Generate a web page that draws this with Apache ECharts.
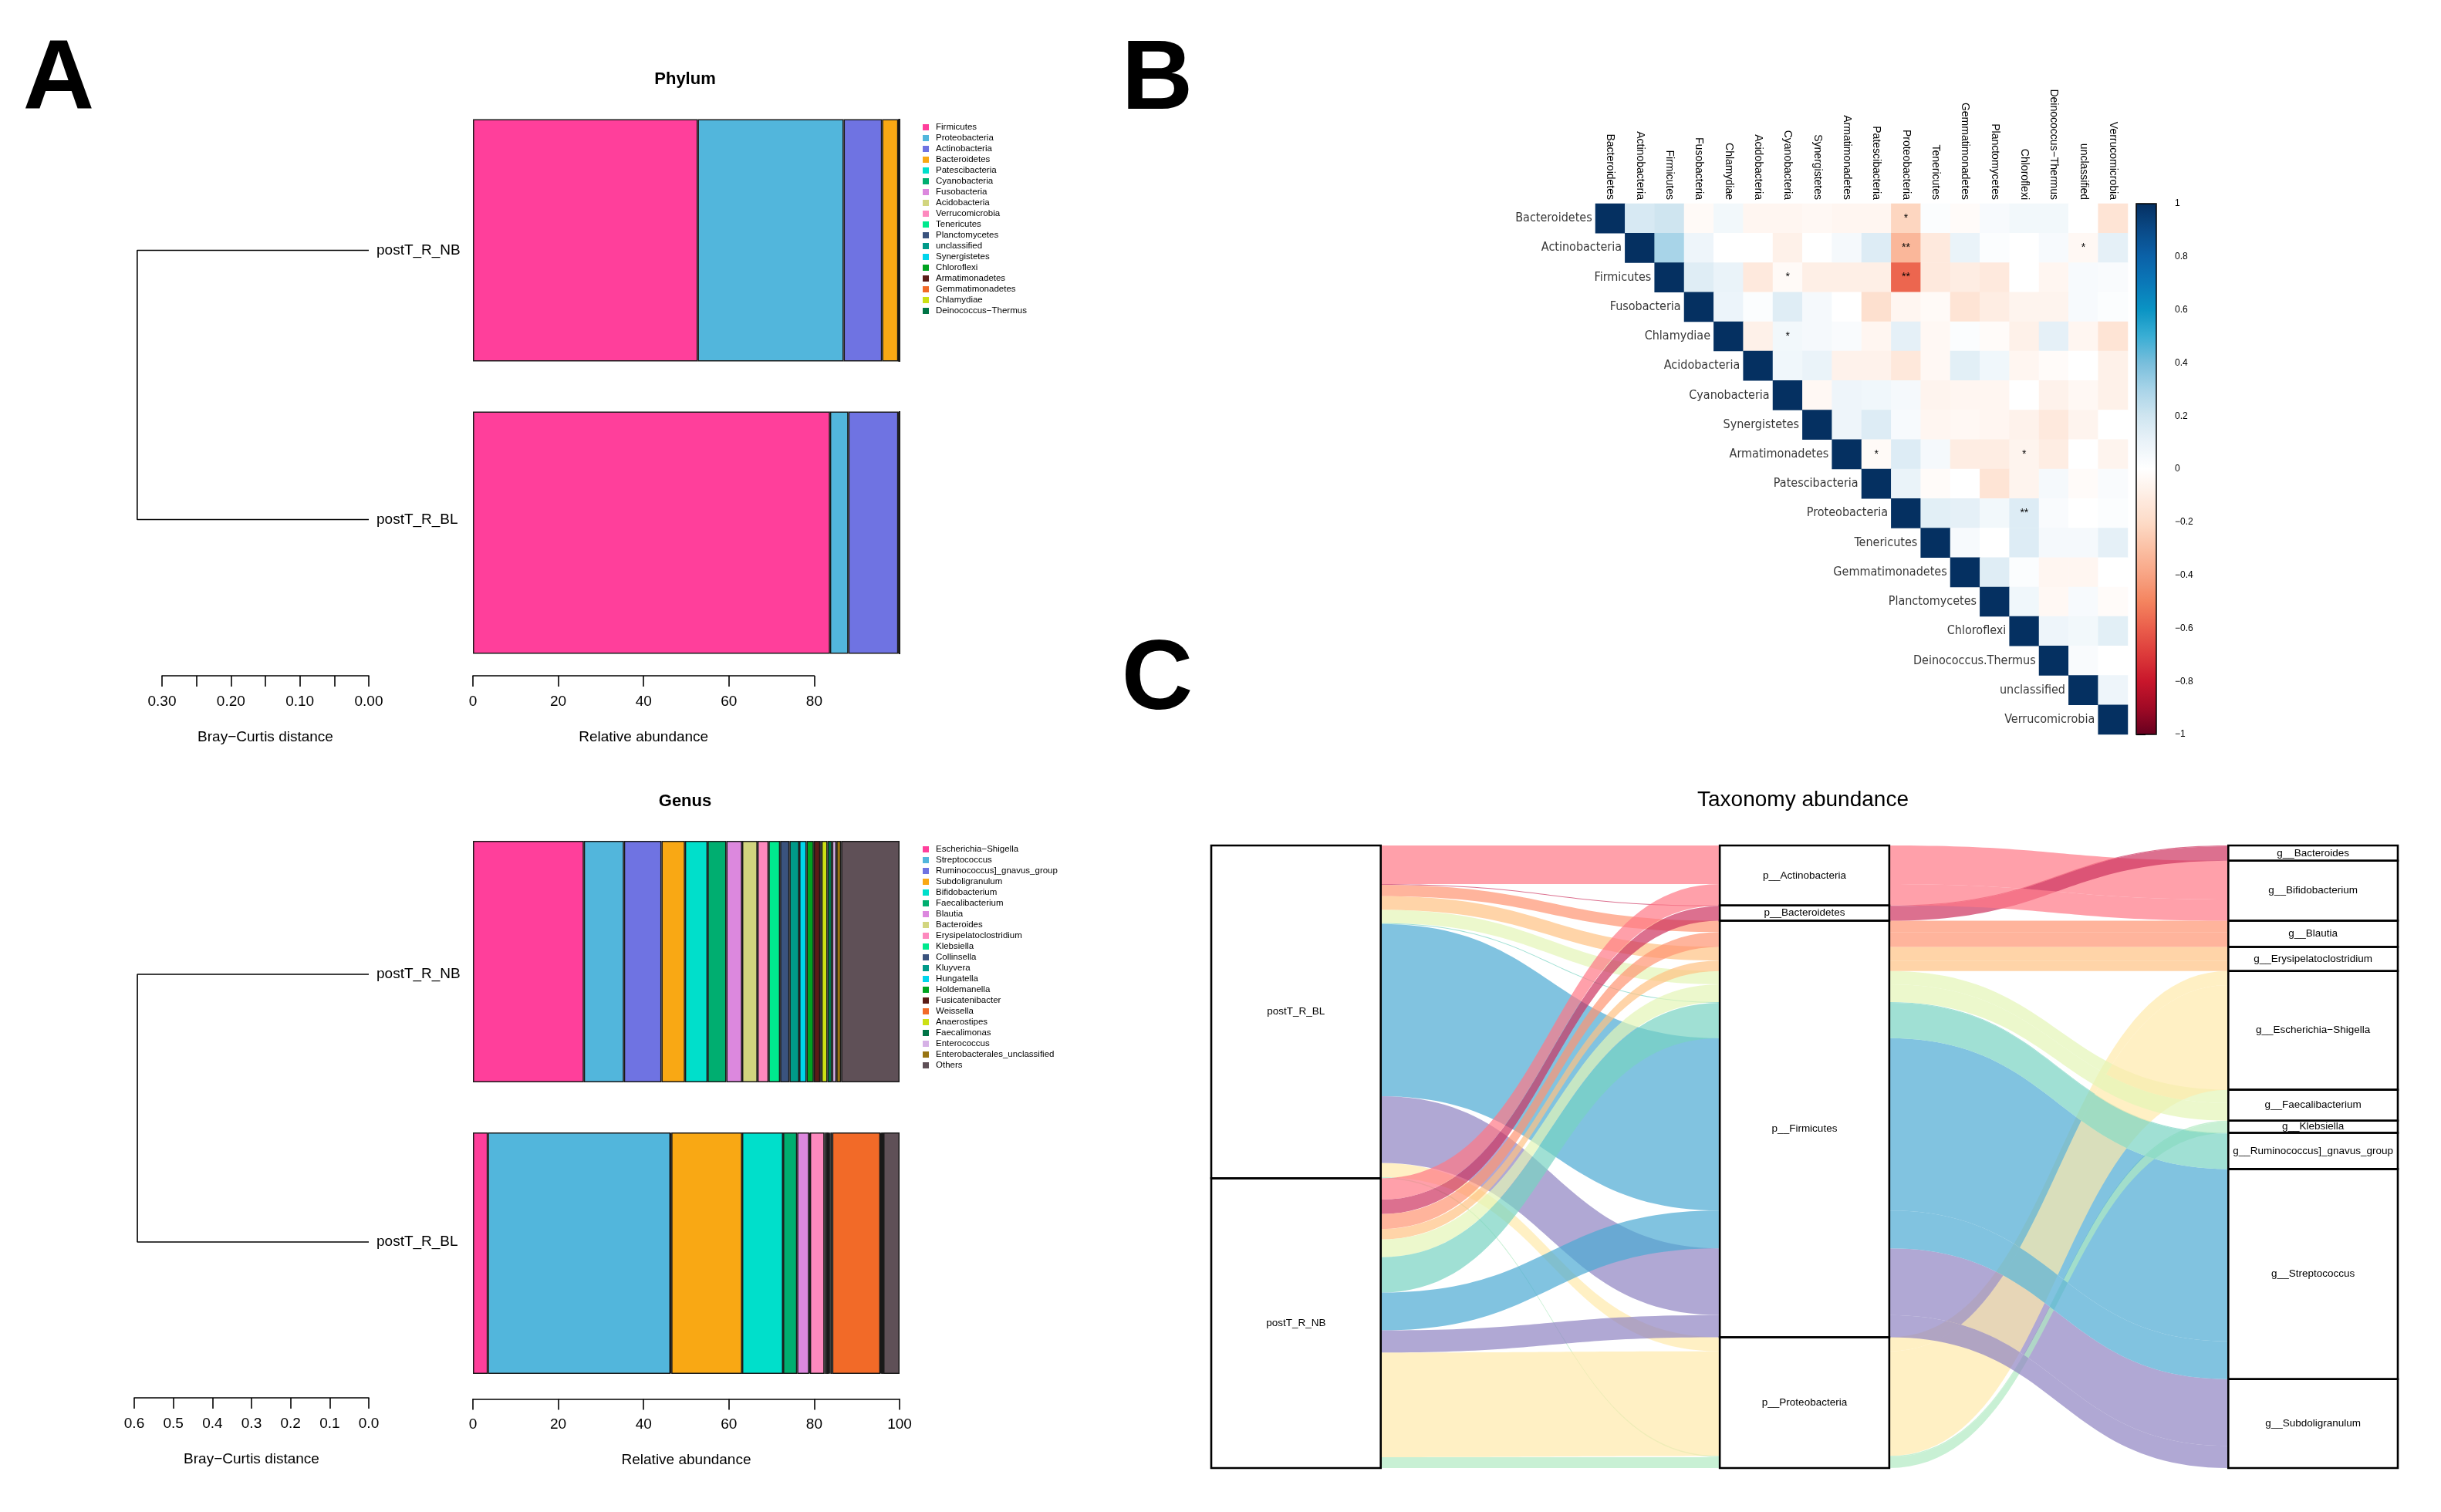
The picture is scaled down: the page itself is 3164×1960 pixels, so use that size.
<!DOCTYPE html>
<html><head><meta charset="utf-8">
<script src="https://cdn.jsdelivr.net/npm/echarts@6/dist/echarts.min.js"></script>
<style>html,body{margin:0;padding:0;background:#fff}#c{width:3164px;height:1960px}</style>
</head><body><div id="c"></div>
<script>
// ---------------- DATA ----------------
const samples = ['postT_R_BL', 'postT_R_NB'];

const phylumNames = ['Firmicutes','Proteobacteria','Actinobacteria','Bacteroidetes','Patescibacteria','Cyanobacteria','Fusobacteria','Acidobacteria','Verrucomicrobia','Tenericutes','Planctomycetes','unclassified','Synergistetes','Chloroflexi','Armatimonadetes','Gemmatimonadetes','Chlamydiae','Deinococcus\u2212Thermus'];
const phylumBL = [83.7,4.3,11.7,0.2,0.02,0.01,0.01,0.01,0.01,0.01,0.01,0.01,0.005,0.005,0.005,0.005,0.005,0.005];
const phylumNB = [52.7,34.2,9.0,3.8,0.1,0.05,0.03,0.02,0.02,0.02,0.01,0.01,0.01,0.01,0.005,0.005,0.005,0.005];
const phylumColors = ['#FF3F9B','#52B6DC','#6F73E2','#F9A814','#00DFCB','#00AE70','#DC88DE','#D2D57F','#FD89BE','#00E98E','#3A537E','#009A89','#00D5EC','#00A321','#5B1C17','#F26A28','#CCE014','#007446'];

const genusNames = ['Escherichia\u2212Shigella','Streptococcus','Ruminococcus]_gnavus_group','Subdoligranulum','Bifidobacterium','Faecalibacterium','Blautia','Bacteroides','Erysipelatoclostridium','Klebsiella','Collinsella','Kluyvera','Hungatella','Holdemanella','Fusicatenibacter','Weissella','Anaerostipes','Faecalimonas','Enterococcus','Enterobacterales_unclassified','Others'];
const genusBL = [3.5,42.8,0.2,16.6,9.6,3.3,2.8,0.2,3.4,0.3,0.5,0.1,0.3,0.2,0.4,11.3,0.2,0.1,0.3,0.1,3.8];
const genusNB = [26.0,9.4,8.8,5.5,5.3,4.4,3.7,3.6,2.6,2.7,2.2,2.3,1.7,1.7,1.5,0.3,1.4,1.1,1.0,1.1,13.7];
const genusColors = ['#FF3F9B','#52B6DC','#6F73E2','#F9A814','#00DFCB','#00AE70','#DC88DE','#D2D57F','#FD89BE','#00E98E','#3A537E','#009A89','#00D5EC','#00A321','#5B1C17','#F26A28','#CCE014','#007446','#D6B1E6','#987413','#5F5057'];

// Bray-Curtis distances of the two-leaf dendrograms
const bcPhylum = 0.336;
const bcGenus = 0.592;
const bcPhylumTicks = {min: 0, max: 0.30, step: 0.05};
const bcGenusTicks = {min: 0, max: 0.6, step: 0.1};

// correlation matrix (upper triangle, row i, columns j>i)
const heatRows = ['Bacteroidetes','Actinobacteria','Firmicutes','Fusobacteria','Chlamydiae','Acidobacteria','Cyanobacteria','Synergistetes','Armatimonadetes','Patescibacteria','Proteobacteria','Tenericutes','Gemmatimonadetes','Planctomycetes','Chloroflexi','Deinococcus.Thermus','unclassified','Verrucomicrobia'];
const heatCols = ['Bacteroidetes','Actinobacteria','Firmicutes','Fusobacteria','Chlamydiae','Acidobacteria','Cyanobacteria','Synergistetes','Armatimonadetes','Patescibacteria','Proteobacteria','Tenericutes','Gemmatimonadetes','Planctomycetes','Chloroflexi','Deinococcus\u2212Thermus','unclassified','Verrucomicrobia'];
const corrUpper = [
 [0.17,0.2,-0.03,0.06,-0.05,-0.05,-0.04,-0.05,-0.05,-0.22,0.02,-0.02,0.04,0.06,0.06,0.0,-0.15],
 [0.3,0.08,0.0,0.0,-0.08,0.0,0.05,0.15,-0.33,-0.12,0.1,0.02,0.0,0.04,-0.04,0.12],
 [0.14,0.1,-0.12,-0.03,-0.09,-0.09,-0.09,-0.58,-0.12,-0.1,-0.12,0.0,-0.05,0.04,0.03],
 [0.09,0.02,0.14,0.05,0.0,-0.17,-0.05,-0.03,-0.15,-0.1,-0.06,-0.06,0.04,0.02],
 [-0.08,0.06,0.05,0.03,-0.05,0.12,-0.04,0.02,-0.02,-0.08,0.12,-0.05,-0.15],
 [0.07,0.1,-0.07,-0.07,-0.13,-0.04,0.13,0.07,-0.05,-0.02,0.0,-0.08],
 [-0.04,0.08,0.07,0.05,-0.06,-0.05,-0.05,0.0,-0.07,-0.04,-0.08],
 [0.08,0.15,0.04,-0.05,-0.04,-0.05,-0.07,-0.12,-0.06,0.0],
 [-0.03,0.15,0.05,-0.1,-0.1,-0.06,-0.1,0.0,-0.06],
 [0.1,-0.02,0.0,-0.15,-0.06,0.05,-0.02,0.03],
 [0.13,0.12,0.06,0.15,0.03,0.0,0.02],
 [0.04,0.0,0.15,0.05,0.05,0.12],
 [0.14,0.02,-0.05,-0.05,0.0],
 [0.07,-0.04,0.04,-0.02],
 [0.08,0.06,0.13],
 [0.03,0.0],
 [0.08],
 []
];
const corrStars = [[0,10,'*'],[1,10,'**'],[1,16,'*'],[2,6,'*'],[2,10,'**'],[4,6,'*'],[8,9,'*'],[8,14,'*'],[10,14,'**']];
const corrPalette = ['#67001F','#A00A25','#C8162B','#DC3A3A','#EA5E4B','#F4845F','#F8A383','#FBC0A4','#FDDBC7','#FEEDE3','#FFFFFF','#EAF3F9','#CFE5F0','#A8D4E8','#78BEDC','#3AAED4','#0A94C4','#0A78B8','#0B62A8','#0A4A88','#053061'];
const colorbarTicks = {min: -1, max: 1, step: 0.2};

// alluvial (top-10 genera)
const alluGenera = ['Bacteroides','Bifidobacterium','Blautia','Erysipelatoclostridium','Escherichia\u2212Shigella','Faecalibacterium','Klebsiella','Ruminococcus]_gnavus_group','Streptococcus','Subdoligranulum'];
const alluPhylumOf = ['Bacteroidetes','Actinobacteria','Firmicutes','Firmicutes','Proteobacteria','Firmicutes','Proteobacteria','Firmicutes','Firmicutes','Firmicutes'];
const alluPhyla = ['Actinobacteria','Bacteroidetes','Firmicutes','Proteobacteria'];
const alluColors = ['#CD3360','#FF7786','#FF9472','#FFC283','#FFEAAB','#E4F5B6','#B0EAC2','#77D3C2','#4CA9D3','#8E83C2'];

// ---------------- BUILD ----------------
const FONT = 'Liberation Sans';
const chart = echarts.init(document.getElementById('c'));

const series = [];
phylumNames.forEach((n, i) => {
  series.push({name: n, type: 'bar', xAxisIndex: 1, yAxisIndex: 1, stack: 'phy', barWidth: 314,
    data: [phylumBL[i], phylumNB[i]],
    itemStyle: {color: phylumColors[i], borderColor: '#1a1a1a', borderWidth: 1.5}});
});
genusNames.forEach((n, i) => {
  series.push({name: n, type: 'bar', xAxisIndex: 4, yAxisIndex: 4, stack: 'gen', barWidth: 313,
    data: [genusBL[i], genusNB[i]],
    itemStyle: {color: genusColors[i], borderColor: '#1a1a1a', borderWidth: 1.5}});
});
function dendro(h, xi) {
  return {type: 'line', xAxisIndex: xi, yAxisIndex: xi, symbol: 'none', clip: false, silent: true,
    lineStyle: {color: '#000', width: 1.6},
    data: [[0, samples[1]], [h, samples[1]], [h, samples[0]], [0, samples[0]]]};
}
series.push(dendro(bcPhylum, 0));
series.push(dendro(bcGenus, 3));

// heatmap
const starMap = {};
corrStars.forEach(s => starMap[s[0] + '_' + s[1]] = s[2]);
const heatData = [];
for (let i = 0; i < heatRows.length; i++) {
  heatData.push([i, i, 1, '']);
  corrUpper[i].forEach((v, k) => {
    const j = i + 1 + k;
    heatData.push([j, i, v, starMap[i + '_' + j] || '']);
  });
}
const heatIdx = series.length;
series.push({type: 'heatmap', xAxisIndex: 5, yAxisIndex: 5, data: heatData,
  label: {show: true, formatter: p => p.data[3], color: '#000', fontSize: 14, fontFamily: FONT},
  itemStyle: {borderWidth: 0}, emphasis: {disabled: true}});
series.push({type: 'scatter', xAxisIndex: 5, yAxisIndex: 5, symbolSize: 1, silent: true,
  itemStyle: {color: 'rgba(0,0,0,0)'},
  data: heatRows.map((n, i) => [i, i]),
  label: {show: true, position: 'left', distance: 23, formatter: p => heatRows[p.dataIndex],
    color: '#000', fontSize: 16, fontFamily: "'Liberation Sans Narrow','DejaVu Sans Condensed','Liberation Sans'"}});

// alluvial flows
const flows = [];
samples.forEach((s, si) => {
  alluGenera.forEach((g, gi) => {
    const v = si === 0 ? genusBL[genusNames.indexOf(g)] : genusNB[genusNames.indexOf(g)];
    flows.push({s: si, g: gi, p: alluPhyla.indexOf(alluPhylumOf[gi]), v: v});
  });
});
function stackBy(keyFn, prop) {
  const ord = flows.slice().sort((a, b) => {
    const ka = keyFn(a), kb = keyFn(b);
    for (let k = 0; k < ka.length; k++) if (ka[k] !== kb[k]) return ka[k] - kb[k];
    return 0;
  });
  let c = 0;
  ord.forEach(f => { f[prop] = c; c += f.v; });
  return c;
}
const alluTotal = stackBy(f => [f.s, f.p, f.g], 'y1');
stackBy(f => [f.p, f.g, f.s], 'y2');
stackBy(f => [f.g, f.s], 'y3');
const W = 1 / 3;
const ribbonData = [];
flows.forEach(f => {
  ribbonData.push([1 + W / 2, 2 - W / 2, f.y1, f.y1 + f.v, f.y2, f.y2 + f.v, f.g]);
  ribbonData.push([2 + W / 2, 3 - W / 2, f.y2, f.y2 + f.v, f.y3, f.y3 + f.v, f.g]);
});
const boxData = [], boxLabels = [];
function addBoxes(axisX, names, prefix, keyFn) {
  let c = 0;
  names.forEach((n, k) => {
    const tot = flows.filter(f => keyFn(f) === k).reduce((a, f) => a + f.v, 0);
    boxData.push([axisX, c, c + tot]); boxLabels.push(prefix + n); c += tot;
  });
}
addBoxes(1, samples, '', f => f.s);
addBoxes(2, alluPhyla, 'p__', f => f.p);
addBoxes(3, alluGenera, 'g__', f => f.g);

function bez(t, a, b, c, d) { const u = 1 - t; return u*u*u*a + 3*u*u*t*b + 3*u*t*t*c + t*t*t*d; }
series.push({type: 'custom', xAxisIndex: 7, yAxisIndex: 7, silent: true, data: ribbonData,
  encode: {x: [0, 1], y: [2, 3, 4, 5]},
  renderItem: (params, api) => {
    const x0 = api.value(0), x1 = api.value(1), a0 = api.value(2), b0 = api.value(3), a1 = api.value(4), b1 = api.value(5), gi = api.value(6);
    const xm = (x0 + x1) / 2, N = 48, pts = [];
    for (let i = 0; i <= N; i++) { const t = i / N; pts.push(api.coord([bez(t, x0, xm, xm, x1), bez(t, a0, a0, a1, a1)])); }
    for (let i = N; i >= 0; i--) { const t = i / N; pts.push(api.coord([bez(t, x0, xm, xm, x1), bez(t, b0, b0, b1, b1)])); }
    return {type: 'polygon', shape: {points: pts}, style: {fill: alluColors[gi], opacity: 0.7}};
  }});
series.push({type: 'custom', xAxisIndex: 7, yAxisIndex: 7, silent: true, data: boxData,
  encode: {x: 0, y: [1, 2]},
  renderItem: (params, api) => {
    const xc = api.value(0), yt = api.value(1), yb = api.value(2);
    const p0 = api.coord([xc - W / 2, yt]), p1 = api.coord([xc + W / 2, yb]);
    return {type: 'group', children: [
      {type: 'rect', shape: {x: p0[0], y: p0[1], width: p1[0] - p0[0], height: p1[1] - p0[1]},
        style: {fill: 'rgba(255,255,255,0)', stroke: '#000', lineWidth: 2.6}},
      {type: 'text', style: {text: boxLabels[params.dataIndex], x: (p0[0] + p1[0]) / 2, y: (p0[1] + p1[1]) / 2,
        align: 'center', verticalAlign: 'middle', fontSize: 13.5, fontFamily: FONT, fill: '#000'}}]};
  }});

// ---------------- AXES ----------------
const axStyle = {
  axisLine: {show: true, lineStyle: {color: '#000', width: 1.6}},
  axisTick: {show: true, length: 14, lineStyle: {color: '#000', width: 1.6}},
  axisLabel: {color: '#000', fontSize: 19, fontFamily: FONT, margin: 24},
  splitLine: {show: false},
  nameTextStyle: {color: '#000', fontSize: 19, fontFamily: FONT}
};
const hidden = {show: false};
const xAxis = [
  Object.assign({gridIndex: 0, type: 'value', inverse: true, min: bcPhylumTicks.min, max: bcPhylumTicks.max, interval: bcPhylumTicks.step, offset: 28,
    name: 'Bray\u2212Curtis distance', nameLocation: 'middle', nameGap: 70}, axStyle,
    {axisLabel: Object.assign({}, axStyle.axisLabel, {formatter: v => (Math.round(v * 100) % 10 === 0 ? v.toFixed(2) : '')})}),
  {gridIndex: 1, type: 'value', min: 0, max: 100, show: false},
  Object.assign({gridIndex: 2, type: 'value', min: 0, max: 80, interval: 20, name: 'Relative abundance', nameLocation: 'middle', nameGap: 70}, axStyle),
  Object.assign({gridIndex: 3, type: 'value', inverse: true, min: bcGenusTicks.min, max: bcGenusTicks.max, interval: bcGenusTicks.step, offset: 28.5,
    name: 'Bray\u2212Curtis distance', nameLocation: 'middle', nameGap: 70}, axStyle,
    {axisLabel: Object.assign({}, axStyle.axisLabel, {formatter: v => v.toFixed(1)})}),
  Object.assign({gridIndex: 4, type: 'value', min: 0, max: 100, interval: 20, name: 'Relative abundance', nameLocation: 'middle', nameGap: 70}, axStyle),
  {gridIndex: 5, type: 'category', data: heatCols, position: 'top', axisLine: hidden, axisTick: hidden, splitLine: hidden,
    axisLabel: {rotate: 90, interval: 0, margin: 5, color: '#000', fontSize: 14, fontFamily: FONT}},
  {gridIndex: 6, type: 'value', show: false},
  {gridIndex: 7, type: 'value', min: 1 - W / 2, max: 3 + W / 2, show: false}
];
const yAxis = [
  {gridIndex: 0, type: 'category', data: samples, position: 'right', axisLine: hidden, axisTick: hidden,
    axisLabel: {color: '#000', fontSize: 19, fontFamily: FONT, margin: 10}},
  {gridIndex: 1, type: 'category', data: samples, show: false},
  {gridIndex: 2, type: 'value', show: false},
  {gridIndex: 3, type: 'category', data: samples, position: 'right', axisLine: hidden, axisTick: hidden,
    axisLabel: {color: '#000', fontSize: 19, fontFamily: FONT, margin: 10}},
  {gridIndex: 4, type: 'category', data: samples, show: false},
  {gridIndex: 5, type: 'category', data: heatRows, inverse: true, show: false},
  {gridIndex: 6, type: 'value', min: colorbarTicks.min, max: colorbarTicks.max, interval: colorbarTicks.step, position: 'right',
    axisLine: hidden, splitLine: hidden,
    axisTick: {show: true, length: 12, lineStyle: {color: '#000', width: 1.2}},
    axisLabel: {color: '#000', fontSize: 12, fontFamily: FONT, margin: 24,
      formatter: v => { const r = Math.round(v * 10) / 10; return r === 0 ? '0' : (r < 0 ? '\u2212' : '') + String(Math.abs(r)); }}},
  {gridIndex: 7, type: 'value', min: 0, max: alluTotal, inverse: true, show: false}
];
const grid = [
  {left: 210, top: 150, width: 268, height: 698},
  {left: 613, top: 122, width: 553, height: 758},
  {left: 613, top: 875, width: 442.4, height: 1},
  {left: 174, top: 1089.5, width: 304, height: 694},
  {left: 613, top: 1057.5, width: 553, height: 756},
  {left: 2068, top: 264, width: 690, height: 688},
  {left: 2769, top: 264, width: 26, height: 688, show: true, borderColor: '#000', borderWidth: 1.5, backgroundColor: 'rgba(0,0,0,0)', z: 10},
  {left: 1570, top: 1096, width: 1538, height: 807}
];

const legendBase = {orient: 'vertical', left: 1196, itemWidth: 8, itemHeight: 8, itemGap: 0, icon: 'rect', selectedMode: false,
  itemStyle: {borderWidth: 0}, padding: 0,
  textStyle: {color: '#000', fontSize: 11.5, lineHeight: 14, fontFamily: FONT, padding: [0, 0, 0, 4]}};

const txt = (text, x, y, size, bold, align) => ({type: 'text', x: x, y: y, style: {text: text, fontSize: size, fontWeight: bold ? 'bold' : 'normal',
  fontFamily: FONT, fill: '#000', align: align || 'center', verticalAlign: 'middle'}});

chart.setOption({
  animation: false,
  backgroundColor: '#fff',
  textStyle: {fontFamily: FONT},
  grid: grid, xAxis: xAxis, yAxis: yAxis,
  legend: [Object.assign({}, legendBase, {top: 158, data: phylumNames}),
           Object.assign({}, legendBase, {top: 1094, data: genusNames})],
  visualMap: {type: 'continuous', min: -1, max: 1, seriesIndex: heatIdx, dimension: 2, inRange: {color: corrPalette},
    show: true, left: 2769, top: 264, itemWidth: 26, itemHeight: 688, calculable: false, padding: 0, text: null, hoverLink: false},
  graphic: [
    txt('A', 76, 106, 128, true), txt('B', 1500, 106, 128, true), txt('C', 1500, 884, 128, true),
    txt('Phylum', 888, 103, 22, true), txt('Genus', 888, 1039, 22, true),
    txt('Taxonomy abundance', 2337, 1037, 28, false)
  ],
  series: series
});
</script></body></html>
